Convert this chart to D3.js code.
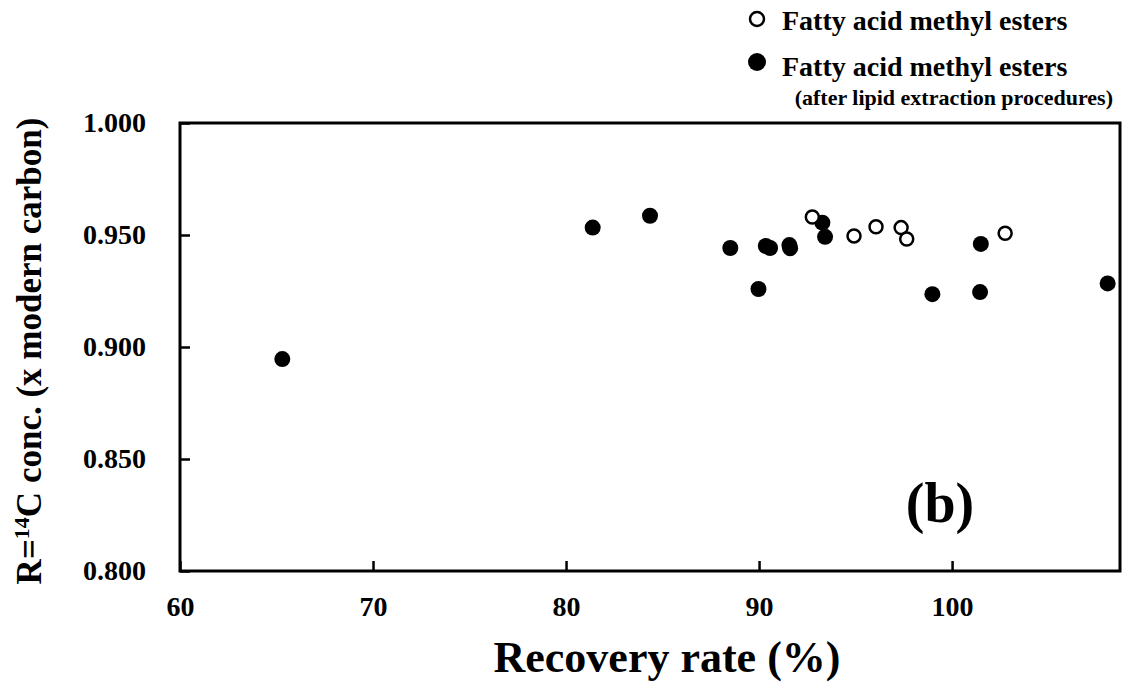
<!DOCTYPE html>
<html>
<head>
<meta charset="utf-8">
<script src="https://cdn.jsdelivr.net/npm/d3@7"></script>
<style>
  body { margin: 0; background: #fff; }
  svg { display: block; }
  text { font-family: "Liberation Serif", "Times New Roman", serif; font-weight: bold; fill: #000; }
</style>
</head>
<body>
<svg width="1125" height="691"></svg>
<script>
// recovery rate (%) and R (x modern carbon)
var fameX = [92.76, 94.92, 96.06, 97.36, 97.65, 102.75];
var fameY = [0.958, 0.9496, 0.9537, 0.9533, 0.9482, 0.9508];

var lipidX = [65.3, 81.38, 84.35, 88.51, 89.97, 90.35, 90.57, 91.57, 91.61, 93.28, 93.42, 98.98, 101.49, 101.45, 108.06];
var lipidY = [0.8946, 0.9533, 0.9586, 0.9442, 0.9259, 0.9451, 0.9442, 0.9455, 0.9441, 0.9555, 0.9492, 0.9236, 0.946, 0.9245, 0.9284];

var xTicks = [60, 70, 80, 90, 100];
var yTicks = [0.800, 0.850, 0.900, 0.950, 1.000];

var svg = d3.select("svg");
var mLeft = 180, mRight = 1120, mTop = 123, mBottom = 571;

var x = d3.scaleLinear().domain([60, 108.7]).range([mLeft, mRight]);
var y = d3.scaleLinear().domain([0.8, 1.0]).range([mBottom, mTop]);

// frame
svg.append("rect")
  .attr("x", mLeft).attr("y", mTop)
  .attr("width", mRight - mLeft).attr("height", mBottom - mTop)
  .attr("fill", "none").attr("stroke", "#000").attr("stroke-width", 3);

// axes with inward ticks
var xAxis = svg.append("g")
  .attr("transform", "translate(0," + mBottom + ")")
  .call(d3.axisBottom(x).tickValues(xTicks).tickSizeInner(-10).tickSizeOuter(0).tickPadding(25));
var yAxis = svg.append("g")
  .attr("transform", "translate(" + mLeft + ",0)")
  .call(d3.axisLeft(y).tickValues(yTicks).tickFormat(d3.format(".3f")).tickSizeInner(-10).tickSizeOuter(0).tickPadding(34));

[xAxis, yAxis].forEach(function(a) {
  a.select(".domain").remove();
  a.selectAll(".tick line").attr("stroke", "#000").attr("stroke-width", 2.5);
  a.selectAll(".tick text").style("font-size", "28px");
});
xAxis.selectAll(".tick text").attr("dy", "0.71em");

// points
svg.append("g").selectAll("circle")
  .data(lipidX.map(function(d, i) { return [d, lipidY[i]]; }))
  .enter().append("circle")
  .attr("cx", function(d) { return x(d[0]); })
  .attr("cy", function(d) { return y(d[1]); })
  .attr("r", 8)
  .attr("fill", "#000");

svg.append("g").selectAll("circle")
  .data(fameX.map(function(d, i) { return [d, fameY[i]]; }))
  .enter().append("circle")
  .attr("cx", function(d) { return x(d[0]); })
  .attr("cy", function(d) { return y(d[1]); })
  .attr("r", 6.5)
  .attr("fill", "#fff")
  .attr("stroke", "#000")
  .attr("stroke-width", 2.5);

// axis titles
svg.append("text")
  .attr("x", 667).attr("y", 672)
  .attr("text-anchor", "middle")
  .style("font-size", "44px")
  .text("Recovery rate (%)");

var yt = svg.append("text")
  .attr("transform", "translate(41,351) rotate(-90)")
  .attr("text-anchor", "middle")
  .style("font-size", "35px");
yt.append("tspan").text("R=");
yt.append("tspan").attr("dy", -12).style("font-size", "22px").text("14");
yt.append("tspan").attr("dy", 12).text("C conc. (x modern carbon)");

// panel label
svg.append("text")
  .attr("x", 940).attr("y", 522)
  .attr("text-anchor", "middle")
  .style("font-size", "56px")
  .text("(b)");

// legend
svg.append("circle").attr("cx", 757).attr("cy", 19).attr("r", 7)
  .attr("fill", "#fff").attr("stroke", "#000").attr("stroke-width", 2.5);
svg.append("text").attr("x", 782).attr("y", 30).style("font-size", "28px")
  .text("Fatty acid methyl esters");
svg.append("circle").attr("cx", 757).attr("cy", 62).attr("r", 9).attr("fill", "#000");
svg.append("text").attr("x", 782).attr("y", 76).style("font-size", "28px")
  .text("Fatty acid methyl esters");
svg.append("text").attr("x", 1113).attr("y", 105).attr("text-anchor", "end").style("font-size", "22px")
  .text("(after lipid extraction procedures)");
</script>
</body>
</html>
